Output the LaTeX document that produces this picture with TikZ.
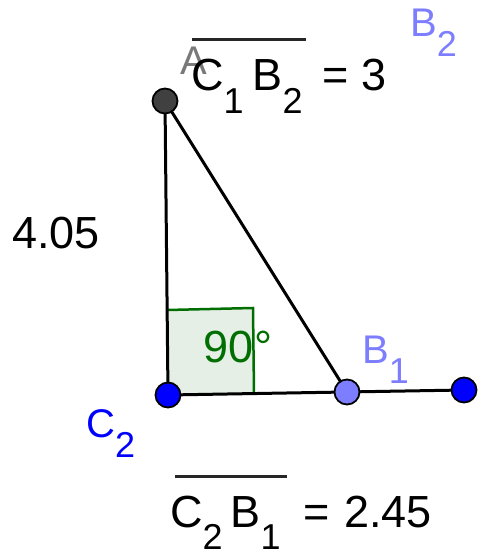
\documentclass[tikz,border=0pt]{standalone}
\usepackage{fontspec}
\setmainfont{Liberation Sans}
\definecolor{ptblue}{RGB}{0,0,255}
\definecolor{ltblue}{RGB}{125,125,255}
\definecolor{ptgray}{RGB}{64,64,64}
\definecolor{anggreen}{RGB}{0,110,0}
\definecolor{angfill}{RGB}{229,239,229}
\newcommand{\sbs}[1]{\raisebox{-0.5em}{\fontsize{36}{40}\selectfont #1}}
\tikzset{
  seg/.style={line width=3pt, black},
  ptA/.style={circle, fill=ptgray, draw=black, line width=1.8pt, minimum size=25pt, inner sep=0pt},
  ptC/.style={circle, fill=ptblue, draw=black, line width=1.8pt, minimum size=25pt, inner sep=0pt},
  ptB/.style={circle, fill=ltblue, draw=black, line width=1.8pt, minimum size=25pt, inner sep=0pt},
  val/.style={inner sep=0pt, anchor=base west, font=\fontsize{45}{54}\selectfont},
  plab/.style={inner sep=0pt, anchor=base west, font=\fontsize{40}{48}\selectfont},
  bar/.style={line width=3pt, black!85}
}
\begin{document}
\begin{tikzpicture}[x=1pt,y=-1pt]
\useasboundingbox (0,0) rectangle (479,553);
% right angle marker
\coordinate (C2c) at (168,395);
\fill[angfill] (168,395) -- (167,310) -- (253,308) -- (254,393) -- cycle;
\draw[anggreen, line width=2.5pt] (167,310) -- (253,308) -- (254,393);
% segments
\coordinate (Ac) at (165,101);
\coordinate (B1c) at (347,392);
\coordinate (Rc) at (464,390);
\draw[seg] (Ac) -- (C2c);
\draw[seg] (Ac) -- (B1c);
\draw[seg] (C2c) -- (Rc);
% labels
\node[plab, text=ptgray!70] (Alab) at (180,75) {A};
\node[val] (top) at (191,91) {C\sbs{1}\hspace{9pt}B\sbs{2}\hspace{7pt} = 3};
\draw[bar] (192,40) -- (306,40);
\node[plab, text=ltblue] (B2lab) at (410,37) {B\sbs{2}};
\node[val] (len) at (12,248) {4.05};
\node[val, text=anggreen] (ang) at (203,362) {90\hspace{1pt}°};
\node[plab, text=ltblue] (B1lab) at (362,363) {B\sbs{1}};
\node[plab, text=ptblue] (C2lab) at (86,437) {C\sbs{2}};
\node[val] (bot) at (170,527) {C\sbs{2}\hspace{8pt}B\sbs{1}\hspace{10pt} = \hspace{2pt}2.45};
\draw[bar] (175,476) -- (287,476);
% points
\node[ptA] (A) at (Ac) {};
\node[ptC] (C2) at (C2c) {};
\node[ptB] (B1) at (B1c) {};
\node[ptC] (R) at (Rc) {};
\end{tikzpicture}
\end{document}
